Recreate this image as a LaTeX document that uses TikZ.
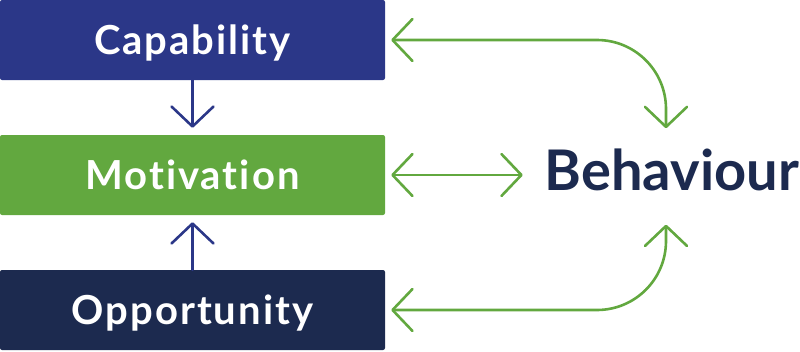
\documentclass[tikz,border=0pt]{standalone}
\usepackage{fontspec}
\setmainfont{Lato}[Ligatures=NoCommon]
\newfontfamily\spacedfont{Lato}[Ligatures=NoCommon, LetterSpace=5]
\usetikzlibrary{arrows.meta}
\definecolor{capblue}{HTML}{2B3788}
\definecolor{motgreen}{HTML}{62A83F}
\definecolor{oppnavy}{HTML}{1C2A4F}
\begin{document}
\begin{tikzpicture}[
    x=1pt, y=-1pt,
    factor/.style={rectangle, rounded corners=2pt, minimum width=385pt, minimum height=80pt,
        inner sep=0pt, text=white, text height=28pt, text depth=0pt,
        font=\spacedfont\fontsize{40}{40}\selectfont\bfseries},
    barb/.style={line width=2.6pt, line cap=round, line join=round},
    tip/.tip={Straight Barb[length=20pt, width=42pt, line join=round, line cap=round]},
    link/.style={barb, draw=capblue, -tip},
    loop/.style={barb, draw=motgreen, tip-tip, rounded corners=69pt, shorten <=6pt}
]
    \useasboundingbox (0,0) rectangle (800,351);

    % Factores
    \node[factor, fill=capblue] (cap) at (192.5,40) {Capability};
    \node[factor, fill=motgreen] (mot) at (192.5,175) {Motivation};
    \node[factor, fill=oppnavy] (opp) at (192.5,310) {Opportunity};

    % Resultado
    \node[anchor=base, inner sep=0pt, text=oppnavy,
        font=\fontsize{56}{56}\selectfont\bfseries] (beh) at (672,190) {Behaviour};

    % Flechas
    \draw[link, shorten >=7pt] (cap.south) -- (mot.north);
    \draw[link, shorten >=7pt] (opp.north) -- (mot.south);
    \draw[loop] (cap.east) -| ([xshift=-6pt, yshift=20pt]beh.north);
    \draw[loop, shorten >=22pt] (mot.east) -- (mot.east -| beh.west);
    \draw[loop] (opp.east) -| ([xshift=-6pt, yshift=-34pt]beh.south);

\end{tikzpicture}
\end{document}
